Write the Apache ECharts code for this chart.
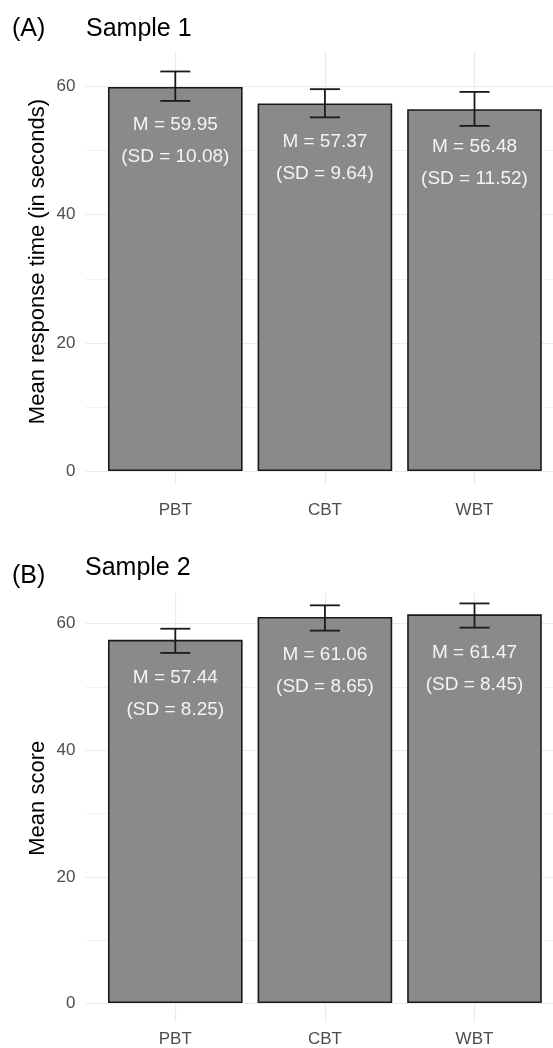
<!DOCTYPE html>
<html>
<head>
<meta charset="utf-8">
<script src="https://cdn.jsdelivr.net/npm/echarts@6/dist/echarts.min.js"></script>
<style>
  html, body { margin: 0; padding: 0; background: #fff; }
  #chart { width: 553px; height: 1048px; }
</style>
</head>
<body>
<div id="chart"></div>
<script>
// data
var categories = ['PBT', 'CBT', 'WBT'];
var yTicks = [0, 20, 40, 60];

// panel A: sample 1, response time
var meanA = [59.95, 57.37, 56.48];
var sdA = [10.08, 9.64, 11.52];
var lowA = [57.77, 55.2, 53.87];
var highA = [62.36, 59.6, 59.17];

// panel B: sample 2, score
var meanB = [57.44, 61.06, 61.47];
var sdB = [8.25, 8.65, 8.45];
var lowB = [55.37, 58.9, 59.37];
var highB = [59.2, 62.9, 63.2];

var FONT = '"Liberation Sans", Arial, sans-serif';
var GRID_COLOR = '#ebebeb';

function labelFor(mean, sd) {
  return function (p) {
    return 'M = ' + mean[p.dataIndex].toFixed(2) + '\n(SD = ' + sd[p.dataIndex].toFixed(2) + ')';
  };
}

function errRender(params, api) {
  var lo = api.coord([api.value(0), api.value(1)]);
  var hi = api.coord([api.value(0), api.value(2)]);
  var hw = 15;
  var st = { stroke: '#1a1a1a', lineWidth: 1.8 };
  return {
    type: 'group',
    children: [
      { type: 'line', shape: { x1: hi[0], y1: hi[1], x2: lo[0], y2: lo[1] }, style: st },
      { type: 'line', shape: { x1: hi[0] - hw, y1: hi[1], x2: hi[0] + hw, y2: hi[1] }, style: st },
      { type: 'line', shape: { x1: lo[0] - hw, y1: lo[1], x2: lo[0] + hw, y2: lo[1] }, style: st }
    ]
  };
}

// background grid (horizontal gridlines + y labels + y title) per panel
function bgY(max, name) {
  return {
    type: 'value', min: 0, max: max, interval: 20,
    axisLine: { show: false }, axisTick: { show: false },
    axisLabel: { color: '#4d4d4d', fontSize: 17, fontFamily: FONT, margin: 10, showMaxLabel: false,
      formatter: function (v) { return yTicks.indexOf(v) >= 0 ? String(v) : ''; } },
    splitLine: { showMaxLine: false, lineStyle: { color: GRID_COLOR, width: 1.2 } },
    minorTick: { show: false, splitNumber: 2 },
    minorSplitLine: { show: true, lineStyle: { color: '#f1f1f1', width: 1 } },
    name: name, nameLocation: 'middle', nameGap: 37, nameMoveOverlap: false,
    nameTextStyle: { color: '#000', fontSize: 22, fontFamily: FONT }
  };
}

function barY(max, grid) {
  return { type: 'value', gridIndex: grid, min: 0, max: max, show: false, splitLine: { show: false } };
}

function catBottom(grid, margin, tick) {
  return {
    type: 'category', gridIndex: grid, data: categories, position: 'bottom',
    axisLine: { show: false },
    axisTick: { show: true, alignWithLabel: true, length: tick, lineStyle: { color: GRID_COLOR, width: 1.2 } },
    axisLabel: { color: '#4d4d4d', fontSize: 17, fontFamily: FONT, margin: margin },
    splitLine: { show: false }
  };
}

function catTop(grid, h) {
  return {
    type: 'category', gridIndex: grid, data: categories, position: 'top',
    axisLine: { show: false },
    axisTick: { show: true, inside: true, alignWithLabel: true, length: h, lineStyle: { color: GRID_COLOR, width: 1.2 } },
    axisLabel: { show: false }, splitLine: { show: false }
  };
}

function barSeries(grid, mean, sd) {
  return {
    type: 'bar', xAxisIndex: grid.x, yAxisIndex: grid.y, data: mean, barWidth: '90%',
    itemStyle: { color: '#8a8a8a', borderColor: '#1a1a1a', borderWidth: 1.6 },
    label: { show: true, position: 'insideTop', distance: 22, color: '#f4f4f4',
      fontSize: 19, lineHeight: 32, fontFamily: FONT, formatter: labelFor(mean, sd) },
    z: 2
  };
}

function errSeries(grid, low, high) {
  var d = categories.map(function (c, i) { return [i, low[i], high[i]]; });
  return {
    type: 'custom', xAxisIndex: grid.x, yAxisIndex: grid.y, data: d,
    encode: { x: 0, y: [1, 2] }, renderItem: errRender, z: 5
  };
}

var hA = 419, maxA = 65.4;
var hB = 410.5, maxB = 64.85;
var titleStyle = { fontSize: 25, fontWeight: 'normal', color: '#000', fontFamily: FONT };

var option = {
  animation: false,
  backgroundColor: '#fff',
  title: [
    { text: '(A)', left: 12, top: 17, padding: 0, textStyle: titleStyle },
    { text: 'Sample 1', left: 86, top: 17, padding: 0, textStyle: titleStyle },
    { text: '(B)', left: 12, top: 564, padding: 0, textStyle: titleStyle },
    { text: 'Sample 2', left: 85, top: 556, padding: 0, textStyle: titleStyle }
  ],
  grid: [
    { left: 85.5, right: 0, top: 52, height: hA },
    { left: 100.5, width: 448.8, top: 52, height: hA },
    { left: 85.5, right: 0, top: 593, height: hB },
    { left: 100.5, width: 448.8, top: 593, height: hB }
  ],
  xAxis: [
    { type: 'value', gridIndex: 0, show: false },
    catBottom(1, 31, 14),
    catTop(1, hA),
    { type: 'value', gridIndex: 2, show: false },
    catBottom(3, 28, 19),
    catTop(3, hB)
  ],
  yAxis: [
    bgY(maxA, 'Mean response time (in seconds)'),
    barY(maxA, 1),
    Object.assign(bgY(maxB, 'Mean score'), { gridIndex: 2 }),
    barY(maxB, 3)
  ],
  series: [
    barSeries({ x: 1, y: 1 }, meanA, sdA),
    errSeries({ x: 1, y: 1 }, lowA, highA),
    barSeries({ x: 4, y: 3 }, meanB, sdB),
    errSeries({ x: 4, y: 3 }, lowB, highB)
  ]
};

echarts.init(document.getElementById('chart')).setOption(option);
</script>
</body>
</html>
